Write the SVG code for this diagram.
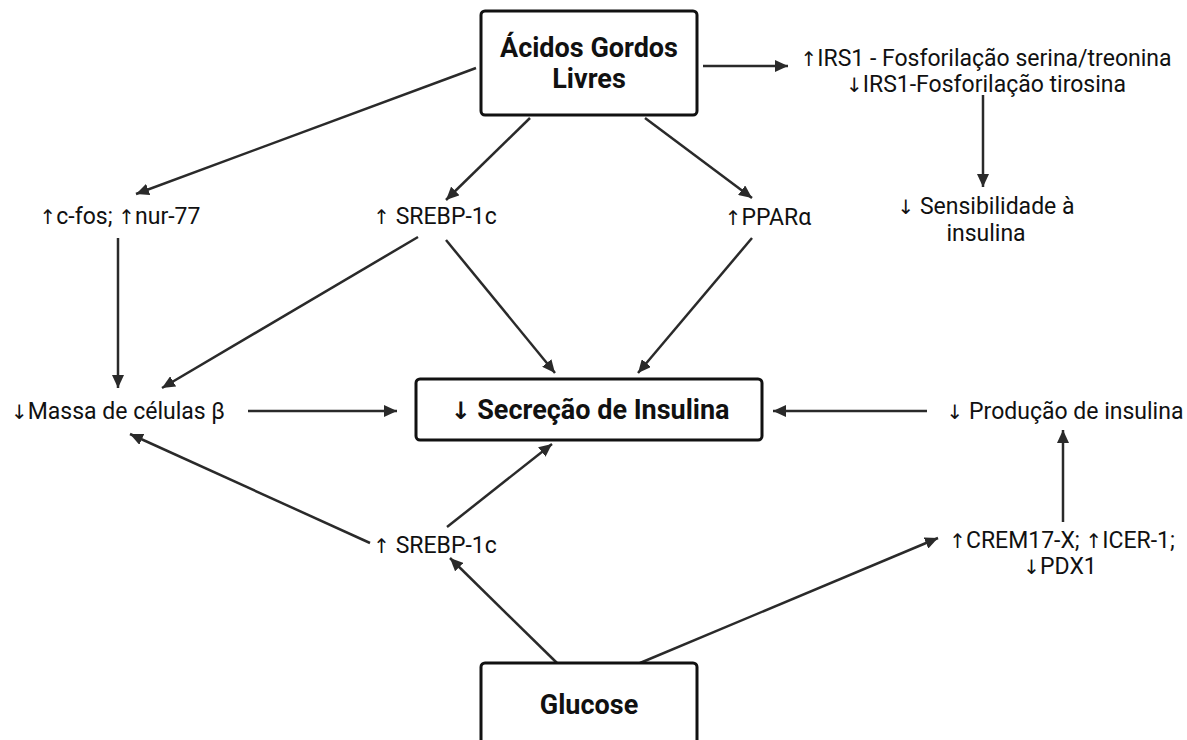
<svg xmlns="http://www.w3.org/2000/svg" width="1187" height="740" viewBox="0 0 1187 740">
<style>
.box{fill:#fff;stroke:#111;stroke-width:3}
.t{font-family:Roboto,"Liberation Sans",sans-serif;font-size:23px;fill:#111;text-anchor:middle}
.b{font-family:Roboto,"Liberation Sans",sans-serif;font-size:27px;font-weight:bold;fill:#111;text-anchor:middle}
.a{font-family:"DejaVu Sans",sans-serif;font-size:20px;fill:#111}
.c line{stroke:#2a2a2a;stroke-width:2.5;marker-end:url(#ah)}
</style>
<defs>
<marker id="ah" markerUnits="userSpaceOnUse" markerWidth="14" markerHeight="12" refX="13" refY="6" orient="auto">
<path d="M0,0 L13,6 L0,12 z" fill="#2a2a2a"/>
</marker>
</defs>
<rect width="1187" height="740" fill="#fff"/>
<g class="c" id="connectors">
<line x1="703" y1="66" x2="788" y2="66"/>
<line x1="983" y1="95" x2="983" y2="187"/>
<line x1="476" y1="68" x2="136" y2="194"/>
<line x1="530" y1="118" x2="446" y2="200"/>
<line x1="645" y1="118" x2="752" y2="198"/>
<line x1="118" y1="238" x2="118" y2="388"/>
<line x1="418" y1="237" x2="162" y2="388"/>
<line x1="446" y1="240" x2="555" y2="373"/>
<line x1="752" y1="238" x2="638" y2="373"/>
<line x1="248" y1="411" x2="397" y2="411"/>
<line x1="927" y1="411" x2="773" y2="411"/>
<line x1="447" y1="527" x2="552" y2="444"/>
<line x1="370" y1="543" x2="130" y2="434"/>
<line x1="557" y1="663" x2="450" y2="558"/>
<line x1="640" y1="663" x2="938" y2="538"/>
<line x1="1063" y1="522" x2="1063" y2="430"/>
</g>
<g id="acidos">
<rect class="box" x="481" y="11" width="216" height="104" rx="4"/>
<text class="b" x="589" y="57">Ácidos Gordos</text>
<text class="b" x="589" y="88">Livres</text>
</g>
<g id="irs1">
<text class="t" x="986" y="66"><tspan class="a">↑</tspan>IRS1 - Fosforilação serina/treonina</text>
<text class="t" x="986" y="92"><tspan class="a">↓</tspan>IRS1-Fosforilação tirosina</text>
</g>
<g id="sensibilidade">
<text class="t" x="986" y="214"><tspan class="a">↓</tspan> Sensibilidade à</text>
<text class="t" x="986" y="241">insulina</text>
</g>
<g id="cfos"><text class="t" x="120" y="224"><tspan class="a">↑</tspan>c-fos; <tspan class="a">↑</tspan>nur-77</text></g>
<g id="srebp1"><text class="t" x="435" y="224"><tspan class="a">↑</tspan> SREBP-1c</text></g>
<g id="ppar"><text class="t" x="768" y="225"><tspan class="a">↑</tspan>PPARα</text></g>
<g id="massa"><text class="t" x="118" y="419"><tspan class="a">↓</tspan>Massa de células β</text></g>
<g id="secrecao">
<rect class="box" x="416" y="379" width="346" height="61" rx="4"/>
<text class="b" x="590" y="419"><tspan class="a" style="font-weight:bold;font-size:24px">↓</tspan> Secreção de Insulina</text>
</g>
<g id="producao"><text class="t" x="1065" y="419"><tspan class="a">↓</tspan> Produção de insulina</text></g>
<g id="srebp2"><text class="t" x="435" y="553"><tspan class="a">↑</tspan> SREBP-1c</text></g>
<g id="crem">
<text class="t" x="1062" y="548"><tspan class="a">↑</tspan>CREM17-X; <tspan class="a">↑</tspan>ICER-1;</text>
<text class="t" x="1060" y="574"><tspan class="a">↓</tspan>PDX1</text>
</g>
<g id="glucose">
<rect class="box" x="481" y="663" width="216" height="90" rx="4"/>
<text class="b" x="589" y="714">Glucose</text>
</g>
</svg>
